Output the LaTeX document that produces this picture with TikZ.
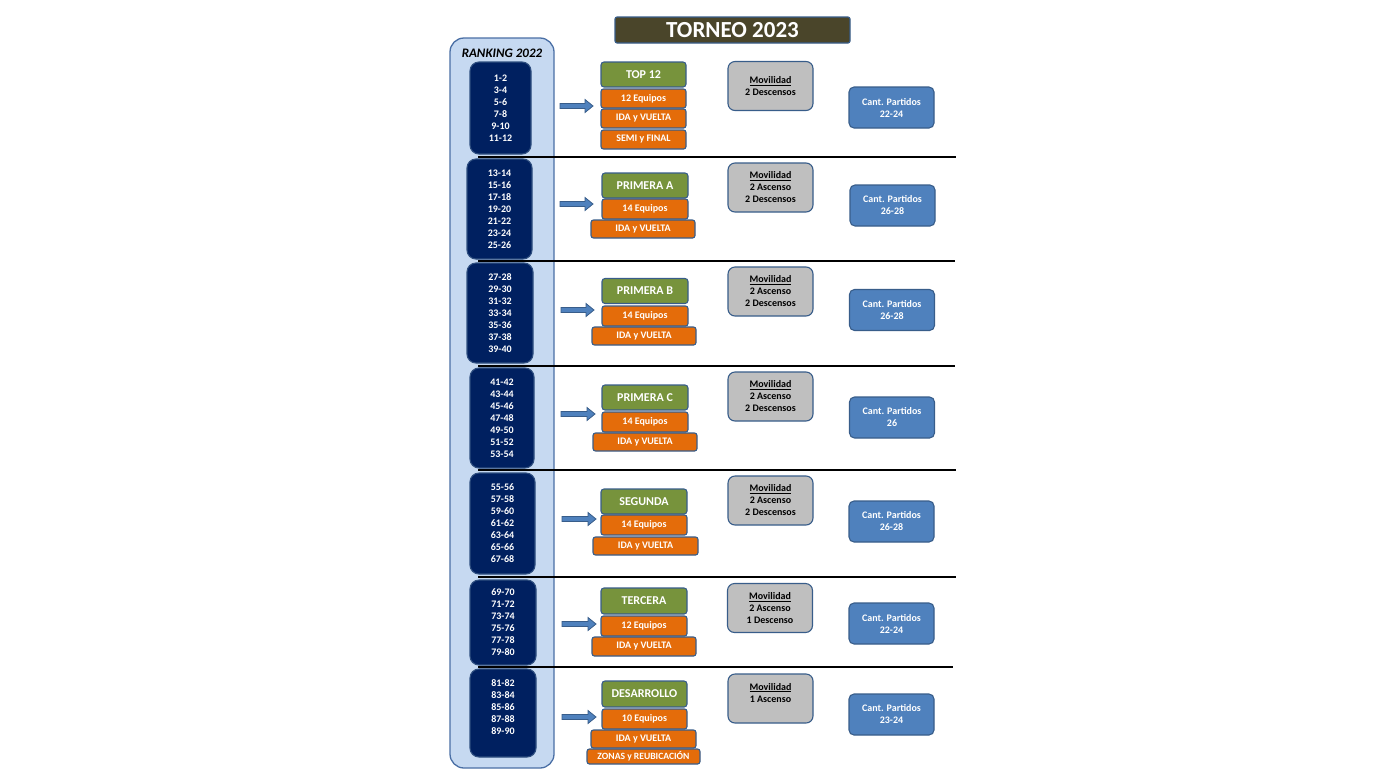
\documentclass[tikz,border=0pt]{standalone}
\usepackage{fontspec}
\setmainfont{Carlito}
\usetikzlibrary{calc}
\definecolor{navy}{HTML}{002060}
\definecolor{navyb}{HTML}{2F4F80}
\definecolor{rankfill}{HTML}{C6D9F1}
\definecolor{rankb}{HTML}{4A6FA5}
\definecolor{titlefill}{HTML}{4A452A}
\definecolor{bord}{HTML}{385D8A}
\definecolor{grn}{HTML}{77933C}
\definecolor{org}{HTML}{E46C0A}
\definecolor{gry}{HTML}{BFBFBF}
\definecolor{blu}{HTML}{4F81BD}
\tikzset{
  base/.style={draw=bord, line width=1.1pt, text=white, align=center, inner sep=0pt,
    font=\fontsize{10}{12}\selectfont\bfseries},
  navybox/.style={base, fill=navy, draw=navyb, rounded corners=9pt, minimum width=65pt},
  greenbox/.style={base, fill=grn, rounded corners=3pt, minimum height=25pt,
    font=\fontsize{12}{13}\selectfont\bfseries},
  orbox/.style={base, fill=org, rounded corners=2.5pt, minimum height=19pt},
  graybox/.style={base, fill=gry, text=black, rounded corners=7pt, minimum width=85pt, minimum height=49pt},
  bluebox/.style={base, fill=blu, rounded corners=5pt, minimum width=85pt, minimum height=41pt},
  sepline/.style={line width=1.6pt, black},
  barrow/.style={fill=blu, draw=bord, line width=0.8pt},
}
\newcommand{\blockarr}[2]{%
  \draw[barrow] ($(#1)+(0,-2.5)$) -- ($(#2)+(-8,-2.5)$) -- ($(#2)+(-8,-6.5)$) -- (#2)
    -- ($(#2)+(-8,6.5)$) -- ($(#2)+(-8,2.5)$) -- ($(#1)+(0,2.5)$) -- cycle;}
\begin{document}
\begin{tikzpicture}[x=1pt,y=-1pt]
\useasboundingbox (0,0) rectangle (1400,780);
\fill[white] (0,0) rectangle (1400,780);

% title
\node[base, fill=titlefill, draw=bord, rounded corners=2pt, minimum width=235pt, minimum height=26pt,
  font=\fontsize{23}{24}\selectfont\bfseries] (title) at (732.5,30) {TORNEO 2023};

% ranking column
\draw[fill=rankfill, draw=rankb, line width=1.3pt, rounded corners=14pt] (450,38) rectangle (554,768);
\node[font=\fontsize{13}{14}\selectfont\bfseries\itshape, text=black, inner sep=0pt] (rank) at (502,53) {RANKING 2022};

% separator lines
\coordinate (l1a) at (478,157); \coordinate (l1b) at (956,157);
\coordinate (l2a) at (478,261); \coordinate (l2b) at (955,261);
\coordinate (l3a) at (478,366); \coordinate (l3b) at (955,366);
\coordinate (l4a) at (478,470); \coordinate (l4b) at (956,470);
\coordinate (l5a) at (478,577); \coordinate (l5b) at (956,577);
\coordinate (l6a) at (478,667); \coordinate (l6b) at (953,667);
\foreach \i in {1,...,6} {\draw[sepline] (l\i a) -- (l\i b);}

% navy ranking boxes
\node[navybox, minimum width=61pt, minimum height=92pt] (n1) at (500.5,108) {1-2\\3-4\\5-6\\7-8\\9-10\\11-12};
\node[navybox, minimum width=65pt, minimum height=100pt] (n2) at (499.5,209) {13-14\\15-16\\17-18\\19-20\\21-22\\23-24\\25-26};
\node[navybox, minimum width=66pt, minimum height=100pt] (n3) at (500,313) {27-28\\29-30\\31-32\\33-34\\35-36\\37-38\\39-40};
\node[navybox, minimum width=64pt, minimum height=100pt] (n4) at (502,418) {41-42\\43-44\\45-46\\47-48\\49-50\\51-52\\53-54};
\node[navybox, minimum width=65pt, minimum height=101pt] (n5) at (502.5,523.5) {55-56\\57-58\\59-60\\61-62\\63-64\\65-66\\67-68};
\node[navybox, minimum width=66pt, minimum height=85pt] (n6) at (503,622.5) {69-70\\71-72\\73-74\\75-76\\77-78\\79-80};
\node[navybox, minimum width=66pt, minimum height=88pt] (n7) at (503,713) {81-82\\83-84\\85-86\\87-88\\89-90\\ \mbox{}};

% green boxes
\node[greenbox, minimum width=85pt] (g1) at (643.5,74.5) {TOP 12};
\node[greenbox, minimum width=86pt] (g2) at (645,185.5) {PRIMERA A};
\node[greenbox, minimum width=86pt] (g3) at (645,291) {PRIMERA B};
\node[greenbox, minimum width=86pt] (g4) at (645,397.5) {PRIMERA C};
\node[greenbox, minimum width=86pt] (g5) at (644,501.5) {SEGUNDA};
\node[greenbox, minimum width=86pt, minimum height=26pt] (g6) at (644,601) {TERCERA};
\node[greenbox, minimum width=85pt, minimum height=26pt] (g7) at (644.5,694) {DESARROLLO};

% orange boxes
\node[orbox, minimum width=85pt] (o1a) at (643.5,98.5) {12 Equipos};
\node[orbox, minimum width=85pt] (o1b) at (643.5,118.5) {IDA y VUELTA};
\node[orbox, minimum width=85pt] (o1c) at (643.5,139.5) {SEMI y FINAL};
\node[orbox, minimum width=86pt, minimum height=20pt] (o2a) at (645,209) {14 Equipos};
\node[orbox, minimum width=104pt, minimum height=18pt] (o2b) at (643,229) {IDA y VUELTA};
\node[orbox, minimum width=86pt, minimum height=20pt] (o3a) at (645,316) {14 Equipos};
\node[orbox, minimum width=104pt, minimum height=18pt] (o3b) at (644,336) {IDA y VUELTA};
\node[orbox, minimum width=86pt, minimum height=20pt] (o4a) at (645,422) {14 Equipos};
\node[orbox, minimum width=104pt, minimum height=18pt] (o4b) at (645,442) {IDA y VUELTA};
\node[orbox, minimum width=86pt, minimum height=20pt] (o5a) at (644,525) {14 Equipos};
\node[orbox, minimum width=105pt, minimum height=18pt] (o5b) at (645.5,546) {IDA y VUELTA};
\node[orbox, minimum width=86pt, minimum height=20pt] (o6a) at (644,626) {12 Equipos};
\node[orbox, minimum width=104pt, minimum height=19pt] (o6b) at (644,646.5) {IDA y VUELTA};
\node[orbox, minimum width=85pt, minimum height=20pt] (o7a) at (644.5,719) {10 Equipos};
\node[orbox, minimum width=105pt, minimum height=18pt] (o7b) at (643.5,739) {IDA y VUELTA};
\node[orbox, minimum width=113pt, minimum height=15pt, font=\fontsize{9.6}{10}\selectfont\bfseries] (o7c) at (643.5,756.5) {ZONAS y REUBICACIÓN};

% gray boxes
\node[graybox] (m1) at (770.5,86) {\underline{Movilidad}\\2 Descensos};
\node[graybox] (m2) at (770.5,187.5) {\underline{Movilidad}\\2 Ascenso\\2 Descensos};
\node[graybox] (m3) at (770.5,291.5) {\underline{Movilidad}\\2 Ascenso\\2 Descensos};
\node[graybox] (m4) at (770.5,396.5) {\underline{Movilidad}\\2 Ascenso\\2 Descensos};
\node[graybox] (m5) at (770.5,500.5) {\underline{Movilidad}\\2 Ascenso\\2 Descensos};
\node[graybox] (m6) at (770,608) {\underline{Movilidad}\\2 Ascenso\\1 Descenso};
\node[graybox] (m7) at (770.5,698.5) {\underline{Movilidad}\\1 Ascenso\\ \mbox{}};

% blue boxes
\node[bluebox] (c1) at (891.5,107.5) {Cant. Partidos\\22-24};
\node[bluebox] (c2) at (892.5,205.5) {Cant. Partidos\\26-28};
\node[bluebox] (c3) at (892,310) {Cant. Partidos\\26-28};
\node[bluebox] (c4) at (892,417.5) {Cant. Partidos\\26};
\node[bluebox] (c5) at (891.5,521.5) {Cant. Partidos\\26-28};
\node[bluebox] (c6) at (891.5,623.5) {Cant. Partidos\\22-24};
\node[bluebox] (c7) at (891.5,714.5) {Cant. Partidos\\23-24};

% arrows
\coordinate (a1s) at (560,106); \coordinate (a1e) at (593,106);
\coordinate (a2s) at (560,204); \coordinate (a2e) at (593,204);
\coordinate (a3s) at (561,310); \coordinate (a3e) at (594,310);
\coordinate (a4s) at (561,414); \coordinate (a4e) at (595,414);
\coordinate (a5s) at (562,519); \coordinate (a5e) at (596,519);
\coordinate (a6s) at (562,624); \coordinate (a6e) at (596,624);
\coordinate (a7s) at (562,717); \coordinate (a7e) at (596,717);
\blockarr{a1s}{a1e}
\blockarr{a2s}{a2e}
\blockarr{a3s}{a3e}
\blockarr{a4s}{a4e}
\blockarr{a5s}{a5e}
\blockarr{a6s}{a6e}
\blockarr{a7s}{a7e}
\end{tikzpicture}
\end{document}
